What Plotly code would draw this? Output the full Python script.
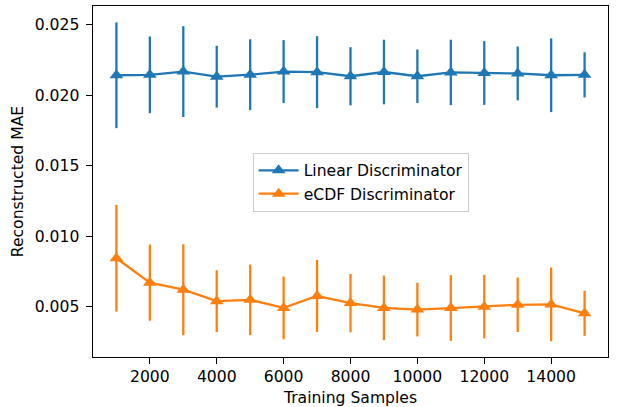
import plotly.graph_objects as go

samples = [1000, 2000, 3000, 4000, 5000, 6000, 7000, 8000, 9000, 10000, 11000, 12000, 13000, 14000, 15000]
linear_mean = [0.02142, 0.02145, 0.02168, 0.02132, 0.02146, 0.02168, 0.02164, 0.02135, 0.02165, 0.02135, 0.02162, 0.02158, 0.02155, 0.02142, 0.02145]
linear_std = [0.00375, 0.00272, 0.00322, 0.00219, 0.00251, 0.00223, 0.00255, 0.00206, 0.00229, 0.0019, 0.00232, 0.00226, 0.00191, 0.00261, 0.0016]
ecdf_mean = [0.00845, 0.00672, 0.00622, 0.00541, 0.0055, 0.00493, 0.00578, 0.00527, 0.00493, 0.00481, 0.00492, 0.00502, 0.00515, 0.00518, 0.00455]
ecdf_std = [0.00378, 0.0027, 0.00322, 0.00219, 0.0025, 0.00222, 0.00255, 0.00207, 0.00229, 0.0019, 0.00233, 0.00225, 0.00193, 0.00261, 0.0016]
x_ticks = [2000, 4000, 6000, 8000, 10000, 12000, 14000]
y_ticks = [0.005, 0.010, 0.015, 0.020, 0.025]

BLUE = "#1f77b4"
ORANGE = "#ff7f0e"
FONT = "DejaVu Sans"
FS = 15.6

fig = go.Figure()
for name, mean, std, col in [
    ("Linear Discriminator", linear_mean, linear_std, BLUE),
    ("eCDF Discriminator", ecdf_mean, ecdf_std, ORANGE),
]:
    fig.add_trace(go.Scatter(
        x=samples, y=mean, name=name, mode="lines+markers",
        line=dict(color=col, width=2.3),
        marker=dict(symbol="triangle-up", size=12, color=col),
        error_y=dict(type="data", array=std, visible=True, color=col, thickness=2.3, width=0),
    ))

axis_common = dict(
    showline=True, linecolor="black", linewidth=1.1, mirror=True,
    ticks="outside", ticklen=5.5, tickwidth=1.1, tickcolor="black",
    showgrid=False, zeroline=False, automargin=False,
    tickfont=dict(family=FONT, size=FS, color="black"),
)

fig.update_layout(
    width=639, height=407,
    margin=dict(l=93, r=31, t=6, b=50),
    paper_bgcolor="white", plot_bgcolor="white",
    font=dict(family=FONT, size=FS, color="black"),
    showlegend=True,
    legend=dict(
        x=0.31, y=0.582, xanchor="left", yanchor="top",
        bgcolor="rgba(255,255,255,0.8)", bordercolor="#cccccc", borderwidth=1,
        font=dict(family=FONT, size=FS, color="black"),
        tracegroupgap=0, itemwidth=40,
    ),
    xaxis=dict(
        range=[300, 15700], tickvals=x_ticks, tickformat="d",
        title=dict(text="Training Samples", font=dict(family=FONT, size=FS), standoff=6),
        **axis_common,
    ),
    yaxis=dict(
        range=[0.00145, 0.02633], tickvals=y_ticks, tickformat=".3f",
        title=dict(text="Reconstructed MAE", font=dict(family=FONT, size=FS), standoff=7),
        ticklabelstandoff=4,
        **axis_common,
    ),
)

fig.write_html(
    "out.html",
    config={"displayModeBar": False},
    post_script="document.body.style.margin='0';document.body.style.padding='0';",
)
